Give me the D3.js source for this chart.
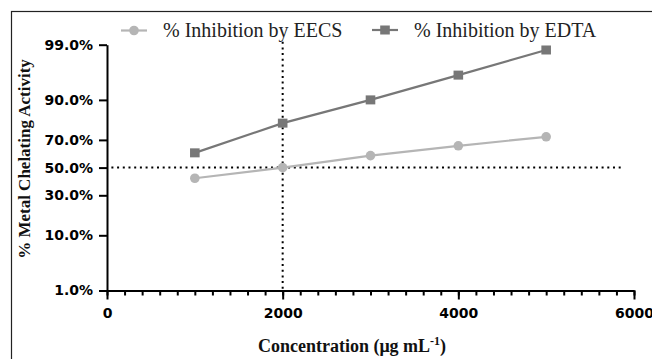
<!DOCTYPE html>
<html>
<head>
<meta charset="utf-8">
<script src="https://cdn.jsdelivr.net/npm/d3@7/dist/d3.min.js"></script>
<style>
  html, body { margin: 0; padding: 0; background: #fff; }
  svg { display: block; }
</style>
</head>
<body>
<svg id="chart" width="652" height="359"></svg>
<script>
// ---- data ----
const concentrations = [1000, 2000, 3000, 4000, 5000];
const eecsValues = [42, 50, 59, 66, 72];        // % inhibition by EECS
const edtaValues = [61, 80, 90, 96, 98.7];      // % inhibition by EDTA
const seriesNames = ["% Inhibition by EECS", "% Inhibition by EDTA"];
const yTickValues = [1, 10, 30, 50, 70, 90, 99];
const yTickLabels = ["1.0%", "10.0%", "30.0%", "50.0%", "70.0%", "90.0%", "99.0%"];
const xTickValues = [0, 2000, 4000, 6000];
const xTickLabels = ["0", "2000", "4000", "6000"];

// inverse normal CDF (probability axis transform)
function probit(p) {
  const a = [-3.969683028665376e+01, 2.209460984245205e+02, -2.759285104469687e+02, 1.383577518672690e+02, -3.066479806614716e+01, 2.506628277459239e+00];
  const b = [-5.447609879822406e+01, 1.615858368580409e+02, -1.556989798598866e+02, 6.680131188771972e+01, -1.328068155288572e+01];
  const c = [-7.784894002430293e-03, -3.223964580411365e-01, -2.400758277161838e+00, -2.549732539343734e+00, 4.374664141464968e+00, 2.938163982698783e+00];
  const d = [7.784695709041462e-03, 3.224671290700398e-01, 2.445134137142996e+00, 3.754408661907416e+00];
  const pl = 0.02425, ph = 1 - pl;
  let q, r;
  if (p < pl) {
    q = Math.sqrt(-2 * Math.log(p));
    return (((((c[0]*q+c[1])*q+c[2])*q+c[3])*q+c[4])*q+c[5]) / ((((d[0]*q+d[1])*q+d[2])*q+d[3])*q+1);
  } else if (p <= ph) {
    q = p - 0.5; r = q * q;
    return (((((a[0]*r+a[1])*r+a[2])*r+a[3])*r+a[4])*r+a[5])*q / (((((b[0]*r+b[1])*r+b[2])*r+b[3])*r+b[4])*r+1);
  } else {
    q = Math.sqrt(-2 * Math.log(1 - p));
    return -(((((c[0]*q+c[1])*q+c[2])*q+c[3])*q+c[4])*q+c[5]) / ((((d[0]*q+d[1])*q+d[2])*q+d[3])*q+1);
  }
}

const svg = d3.select("#chart");

// outer frame
svg.append("rect").attr("x", 11.5).attr("y", 11.5).attr("width", 700).attr("height", 400)
  .attr("fill", "none").attr("stroke", "#222").attr("stroke-width", 1.2);

const x = d3.scaleLinear().domain([0, 6000]).range([107, 634]);
const yz = d3.scaleLinear().domain([probit(0.01), probit(0.99)]).range([290.5, 44.7]);
const y = v => yz(probit(v / 100));

const colEECS = "#b5b5b5";
const colEDTA = "#777777";

// reference dotted lines
svg.append("line")
  .attr("x1", x(50)).attr("x2", x(5860))
  .attr("y1", y(50)).attr("y2", y(50))
  .attr("stroke", "#000").attr("stroke-width", 2).attr("stroke-dasharray", "2,3.7");
svg.append("line")
  .attr("x1", x(2000)).attr("x2", x(2000))
  .attr("y1", y(99) - 3).attr("y2", yz.range()[0])
  .attr("stroke", "#000").attr("stroke-width", 2).attr("stroke-dasharray", "2,3.7");

// axes
const xMinor = d3.range(0, 6001, 200);
const gxMinor = svg.append("g").attr("transform", `translate(0,${yz.range()[0]})`)
  .call(d3.axisBottom(x).tickValues(xMinor).tickSize(5).tickFormat("").tickSizeOuter(0));
gxMinor.select(".domain").remove();

const gx = svg.append("g").attr("transform", `translate(0,${yz.range()[0]})`)
  .call(d3.axisBottom(x).tickValues(xTickValues).tickSize(9).tickSizeOuter(0).tickPadding(9)
    .tickFormat((d, i) => xTickLabels[i]));

const gy = svg.append("g").attr("transform", `translate(${x(0)},0)`)
  .call(d3.axisLeft(yz).tickValues(yTickValues.map(v => probit(v / 100))).tickSize(8).tickSizeOuter(0).tickPadding(6)
    .tickFormat((d, i) => yTickLabels[i]));

svg.selectAll(".domain").attr("stroke", "#000").attr("stroke-width", 2);
svg.selectAll(".tick line").attr("stroke", "#000").attr("stroke-width", 2);
svg.selectAll(".tick text")
  .attr("font-family", "DejaVu Sans, sans-serif").attr("font-weight", "bold")
  .attr("font-size", 14).attr("fill", "#000");

// lines
const line = d3.line().x(d => x(d[0])).y(d => y(d[1]));
const eecsData = concentrations.map((c, i) => [c, eecsValues[i]]);
const edtaData = concentrations.map((c, i) => [c, edtaValues[i]]);

svg.append("path").datum(eecsData).attr("d", line)
  .attr("fill", "none").attr("stroke", colEECS).attr("stroke-width", 2.2);
svg.append("path").datum(edtaData).attr("d", line)
  .attr("fill", "none").attr("stroke", colEDTA).attr("stroke-width", 2.2);

svg.selectAll("circle.eecs").data(eecsData).join("circle").attr("class", "eecs")
  .attr("cx", d => x(d[0])).attr("cy", d => y(d[1])).attr("r", 4.8).attr("fill", colEECS);
svg.selectAll("rect.edta").data(edtaData).join("rect").attr("class", "edta")
  .attr("x", d => x(d[0]) - 4.8).attr("y", d => y(d[1]) - 4.5)
  .attr("width", 9.6).attr("height", 9).attr("fill", colEDTA);

// legend
const lg = svg.append("g");
lg.append("line").attr("x1", 121).attr("x2", 147).attr("y1", 30.5).attr("y2", 30.5)
  .attr("stroke", colEECS).attr("stroke-width", 2.2);
lg.append("circle").attr("cx", 134).attr("cy", 30.5).attr("r", 4.8).attr("fill", colEECS);
lg.append("text").attr("x", 163).attr("y", 36.5).text(seriesNames[0]);

lg.append("line").attr("x1", 372).attr("x2", 398).attr("y1", 30).attr("y2", 30)
  .attr("stroke", colEDTA).attr("stroke-width", 2.2);
lg.append("rect").attr("x", 385 - 4.8).attr("y", 30 - 4.5).attr("width", 9.6).attr("height", 9).attr("fill", colEDTA);
lg.append("text").attr("x", 414).attr("y", 36.5).text(seriesNames[1]);
lg.selectAll("text").attr("font-family", "Liberation Serif, Times New Roman, serif")
  .attr("font-size", 20).attr("fill", "#222");

// axis titles
svg.append("text")
  .attr("transform", "translate(29.5,159) rotate(-90)")
  .attr("text-anchor", "middle")
  .attr("font-family", "Liberation Serif, Times New Roman, serif")
  .attr("font-weight", "bold").attr("font-size", 17).attr("fill", "#111")
  .text("% Metal Chelating Activity");

const xt = svg.append("text")
  .attr("x", 352).attr("y", 352)
  .attr("text-anchor", "middle")
  .attr("font-family", "Liberation Serif, Times New Roman, serif")
  .attr("font-weight", "bold").attr("font-size", 18).attr("fill", "#111");
xt.append("tspan").text("Concentration (μg mL");
xt.append("tspan").attr("font-size", 12).attr("dy", -7).text("-1");
xt.append("tspan").attr("dy", 7).text(")");
</script>
</body>
</html>
